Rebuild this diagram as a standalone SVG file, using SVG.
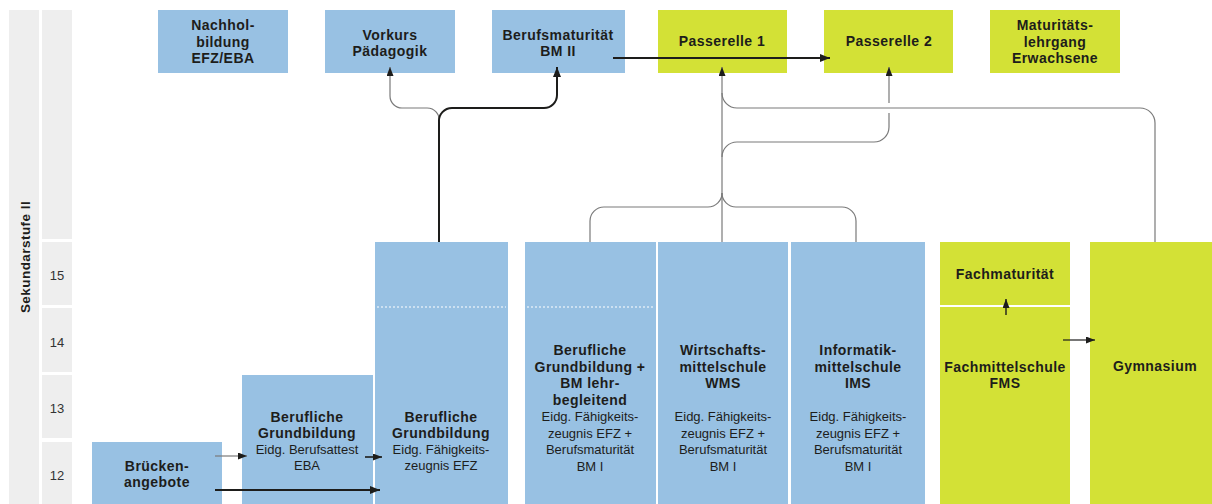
<svg xmlns="http://www.w3.org/2000/svg" width="1212" height="504" viewBox="0 0 1212 504">
<style>
.bg{fill:#ffffff}
.side{fill:#eeeeee}
.blue{fill:#98c1e3}
.green{fill:#d3e136}
.b{font-family:"Liberation Sans",Arial,sans-serif;font-weight:bold;font-size:14px;letter-spacing:0.45px;fill:#1d1d1b;text-anchor:middle}
.r{font-family:"Liberation Sans",Arial,sans-serif;font-size:13px;fill:#1d1d1b;text-anchor:middle}
.num{font-family:"Liberation Sans",Arial,sans-serif;font-size:13px;fill:#333333;text-anchor:middle}
.thin{fill:none;stroke:#7a7a7a;stroke-width:1.2}
.thick{fill:none;stroke:#1d1d1b;stroke-width:2}
.dot{fill:none;stroke:#ffffff;stroke-width:1.2;stroke-dasharray:2 2}
</style>
<defs>
<marker id="ah" markerUnits="userSpaceOnUse" markerWidth="10" markerHeight="8" viewBox="0 0 10 8" refX="10" refY="4" orient="auto">
<path d="M0,0 L10,4 L0,8 z" fill="#1d1d1b"/>
</marker>
<marker id="ahs" markerUnits="userSpaceOnUse" markerWidth="9" markerHeight="7" viewBox="0 0 9 7" refX="9" refY="3.5" orient="auto">
<path d="M0,0 L9,3.5 L0,7 z" fill="#1d1d1b"/>
</marker>
</defs>
<rect class="bg" x="0" y="0" width="1212" height="504"/>

<g id="sidebar">
<rect class="side" x="9" y="10" width="30" height="494"/>
<rect class="side" x="42" y="10" width="30" height="229"/>
<rect class="side" x="42" y="242" width="30" height="63"/>
<rect class="side" x="42" y="308" width="30" height="64"/>
<rect class="side" x="42" y="375" width="30" height="63"/>
<rect class="side" x="42" y="442" width="30" height="62"/>
<text class="b" style="font-size:13.5px" transform="translate(29.5,257) rotate(-90)">Sekundarstufe II</text>
<text class="num" x="57" y="280">15</text>
<text class="num" x="57" y="347">14</text>
<text class="num" x="57" y="413">13</text>
<text class="num" x="57" y="480">12</text>
</g>

<g id="nachholbildung">
<rect class="blue" x="158" y="10" width="130" height="63"/>
<text class="b" x="223" y="30">Nachhol-</text>
<text class="b" x="223" y="46.5">bildung</text>
<text class="b" x="223" y="63">EFZ/EBA</text>
</g>
<g id="vorkurs">
<rect class="blue" x="325" y="10" width="130" height="63"/>
<text class="b" x="390" y="39.5">Vorkurs</text>
<text class="b" x="390" y="56">Pädagogik</text>
</g>
<g id="bm2">
<rect class="blue" x="492" y="10" width="133" height="63"/>
<text class="b" x="558" y="39.5">Berufsmaturität</text>
<text class="b" x="558" y="56">BM II</text>
</g>
<g id="passerelle1">
<rect class="green" x="658" y="10" width="129" height="63"/>
<text class="b" x="722" y="46">Passerelle 1</text>
</g>
<g id="passerelle2">
<rect class="green" x="824" y="10" width="129" height="63"/>
<text class="b" x="889" y="46">Passerelle 2</text>
</g>
<g id="maturitaetslehrgang">
<rect class="green" x="990" y="10" width="130" height="63"/>
<text class="b" x="1055" y="30">Maturitäts-</text>
<text class="b" x="1055" y="46.5">lehrgang</text>
<text class="b" x="1055" y="63">Erwachsene</text>
</g>

<g id="brueckenangebote">
<rect class="blue" x="92" y="442" width="130" height="62"/>
<text class="b" x="157" y="471">Brücken-</text>
<text class="b" x="157" y="487">angebote</text>
</g>
<g id="grundbildung-eba">
<rect class="blue" x="242" y="375" width="131" height="129"/>
<text class="b" x="307" y="422">Berufliche</text>
<text class="b" x="307" y="438">Grundbildung</text>
<text class="r" x="307" y="454">Eidg. Berufsattest</text>
<text class="r" x="307" y="470">EBA</text>
</g>
<g id="grundbildung-efz">
<rect class="blue" x="375" y="242" width="133" height="262"/>
<line class="dot" x1="377" y1="307" x2="506" y2="307"/>
<text class="b" x="441" y="422">Berufliche</text>
<text class="b" x="441" y="438">Grundbildung</text>
<text class="r" x="441" y="454">Eidg. Fähigkeits-</text>
<text class="r" x="441" y="470">zeugnis EFZ</text>
</g>
<g id="grundbildung-bm">
<rect class="blue" x="525" y="242" width="131" height="262"/>
<line class="dot" x1="527" y1="307" x2="655" y2="307"/>
<text class="b" x="590" y="355">Berufliche</text>
<text class="b" x="590" y="371.5">Grundbildung +</text>
<text class="b" x="590" y="388">BM lehr-</text>
<text class="b" x="590" y="404.5">begleitend</text>
<text class="r" x="590" y="421">Eidg. Fähigkeits-</text>
<text class="r" x="590" y="437.5">zeugnis EFZ +</text>
<text class="r" x="590" y="454">Berufsmaturität</text>
<text class="r" x="590" y="470.5">BM I</text>
</g>
<g id="wms">
<rect class="blue" x="658" y="242" width="130" height="262"/>
<text class="b" x="723" y="355">Wirtschafts-</text>
<text class="b" x="723" y="371.5">mittelschule</text>
<text class="b" x="723" y="388">WMS</text>
<text class="r" x="723" y="421">Eidg. Fähigkeits-</text>
<text class="r" x="723" y="437.5">zeugnis EFZ +</text>
<text class="r" x="723" y="454">Berufsmaturität</text>
<text class="r" x="723" y="470.5">BM I</text>
</g>
<g id="ims">
<rect class="blue" x="791" y="242" width="134" height="262"/>
<text class="b" x="858" y="355">Informatik-</text>
<text class="b" x="858" y="371.5">mittelschule</text>
<text class="b" x="858" y="388">IMS</text>
<text class="r" x="858" y="421">Eidg. Fähigkeits-</text>
<text class="r" x="858" y="437.5">zeugnis EFZ +</text>
<text class="r" x="858" y="454">Berufsmaturität</text>
<text class="r" x="858" y="470.5">BM I</text>
</g>
<g id="fachmaturitaet">
<rect class="green" x="940" y="242" width="130" height="63"/>
<text class="b" x="1005" y="279">Fachmaturität</text>
</g>
<g id="fms">
<rect class="green" x="940" y="307" width="130" height="197"/>
<text class="b" x="1005" y="372">Fachmittelschule</text>
<text class="b" x="1005" y="388">FMS</text>
</g>
<g id="gymnasium">
<rect class="green" x="1090" y="242" width="130" height="262"/>
<text class="b" x="1155" y="371">Gymnasium</text>
</g>

<g id="connectors">
<path class="thin" d="M439,122 A12,12 0 0 0 427,108 H402 A12,12 0 0 1 390,96 V67" marker-end="url(#ahs)"/>
<path class="thick" d="M439,242 V122 A13,13 0 0 1 452,108 H544 A13,13 0 0 0 557,95 V67" marker-end="url(#ah)"/>
<path class="thick" d="M613,58 H830" marker-end="url(#ah)"/>
<path class="thin" d="M722,242 V67" marker-end="url(#ahs)"/>
<path class="thin" d="M722,157 A15,15 0 0 1 737,142 H874 A15,15 0 0 0 889,127 V67" marker-end="url(#ahs)"/>
<line x1="889" y1="103" x2="889" y2="113" stroke="#ffffff" stroke-width="4"/>
<path class="thin" d="M1155,242 V123 A15,15 0 0 0 1140,108 H737 A15,15 0 0 1 722,93"/>
<path class="thin" d="M590,242 V221 A14,14 0 0 1 604,207 H708 A14,14 0 0 0 722,193"/>
<path class="thin" d="M856,242 V221 A14,14 0 0 0 842,207 H736 A14,14 0 0 1 722,193"/>
<path class="thin" d="M215,456 H247" marker-end="url(#ahs)"/>
<path class="thick" style="stroke-width:1.6" d="M365,457 H382" marker-end="url(#ahs)"/>
<path class="thick" d="M215,490 H380" marker-end="url(#ah)"/>
<path class="thick" style="stroke-width:1.4" d="M1006,315 V299" marker-end="url(#ahs)"/>
<path class="thick" style="stroke-width:1.2" d="M1063,340 H1095" marker-end="url(#ahs)"/>
</g>
</svg>
